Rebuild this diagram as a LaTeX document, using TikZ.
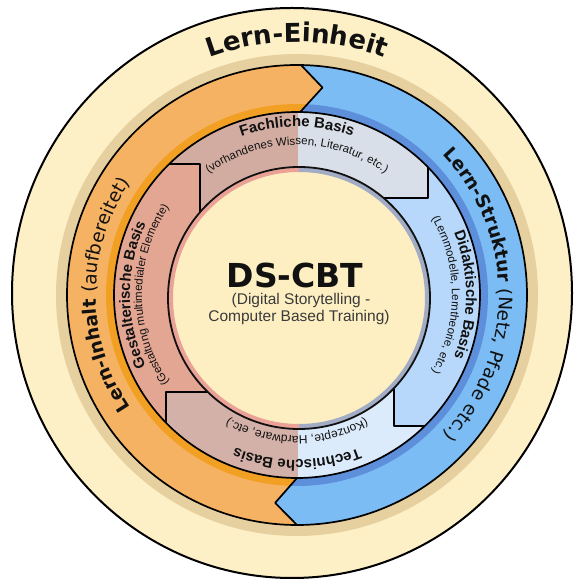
\documentclass[tikz,border=0pt]{standalone}
\usepackage{fontspec}
\usetikzlibrary{decorations.text}
\newfontfamily\dvs{DejaVu Sans}
\newfontfamily\lib{Liberation Sans}

\definecolor{unitbg}{HTML}{FEF0C6}
\definecolor{unittan}{HTML}{E6D09F}
\definecolor{lernorange}{HTML}{F5B262}
\definecolor{lernorangeband}{HTML}{F2A024}
\definecolor{lernblue}{HTML}{7BBCF4}
\definecolor{lernblueband}{HTML}{5E8FDB}
\definecolor{gestalt}{HTML}{E3A693}
\definecolor{fachL}{HTML}{D3ACA1}
\definecolor{fachR}{HTML}{D9DFE8}
\definecolor{didakt}{HTML}{B7D8FA}
\definecolor{technL}{HTML}{D4B1A8}
\definecolor{technR}{HTML}{DCEBFB}
\definecolor{core}{HTML}{FDEFC2}
\definecolor{coreshadeL}{HTML}{EBA296}
\definecolor{coreshadeR}{HTML}{A2ACC4}
\definecolor{ink}{HTML}{111111}
\definecolor{subgray}{HTML}{3A3A3A}

% text set along a clockwise arc around the current origin
% #1 baseline radius, #2 middle angle, #3 half span, #4 formatted text
\newcommand\ringlabel[4]{%
  \path[decorate, decoration={text along path, text align=center, text={#4}}]
    (#2+#3:#1) arc[start angle=#2+#3, end angle=#2-#3, radius=#1];}

\tikzset{
  outline/.style={draw=black, line width=1.7pt},
}

\begin{document}
\begin{tikzpicture}[x=1pt, y=1pt, line join=round]
\useasboundingbox (0,0) rectangle (579,581);
\fill[white] (0,0) rectangle (579,581);

% the learning unit
\coordinate (E) at (292,288);
\filldraw[fill=unitbg, draw=black, line width=2pt] (E) ellipse [x radius=280, y radius=285];

\begin{scope}[shift={(297,286)}]
  \coordinate (C) at (0,0);
  \fill[unittan] (C) circle[radius=241];

  % structure (blue) and content (orange) arrows
  \fill[lernblue] (C) circle[radius=230];
  \fill[lernblueband] (C) circle[radius=191];
  \begin{scope}
    \clip (89:183) -- (83:209) -- (89:230) -- (89:300) -- (-300,300) -- (-300,-300)
          -- (270:300) -- (270:230) -- (264:209) -- (270:183) -- (0,0) -- cycle;
    \fill[lernorange] (C) circle[radius=230];
    \fill[lernorangeband] (C) circle[radius=191];
  \end{scope}

  % the four bases
  \begin{scope}
    \clip (C) circle[radius=183];
    \begin{scope}
      \clip (0,0) -- (-97,50) -- (-97,131) -- (-300,131) -- (-300,300) -- (131,300) -- (131,97) -- (50,97) -- cycle;
      \fill[fachL] (-250,-250) rectangle (1,250);
      \fill[fachR] (1,-250) rectangle (250,250);
    \end{scope}
    \begin{scope}
      \clip (0,0) -- (50,97) -- (131,97) -- (131,300) -- (300,300) -- (300,-131) -- (97,-131) -- (97,-50) -- cycle;
      \fill[didakt] (-250,-250) rectangle (250,250);
    \end{scope}
    \begin{scope}
      \clip (0,0) -- (97,-50) -- (97,-131) -- (300,-131) -- (300,-300) -- (-131,-300) -- (-131,-97) -- (-50,-97) -- cycle;
      \fill[technL] (-250,-250) rectangle (1,250);
      \fill[technR] (1,-250) rectangle (250,250);
    \end{scope}
    \begin{scope}
      \clip (0,0) -- (-50,-97) -- (-131,-97) -- (-131,-300) -- (-300,-300) -- (-300,131) -- (-97,131) -- (-97,50) -- cycle;
      \fill[gestalt] (-250,-250) rectangle (250,250);
    \end{scope}
  \end{scope}

  % outlines
  \draw[outline] (C) circle[radius=230];
  \draw[outline] (C) circle[radius=183];
  \draw[outline] (89:230) -- (83:209) -- (89:183);
  \draw[outline] (270:230) -- (264:209) -- (270:183);
  \draw[outline] (-127.8,131) -- (-97,131) -- (-97,70);
  \draw[outline] (131,127.8) -- (131,97) -- (70,97);
  \draw[outline] (127.8,-131) -- (97,-131) -- (97,-70);
  \draw[outline] (-131,-127.8) -- (-131,-97) -- (-70,-97);

  % core circle
  \begin{scope}[shift={(2,-3)}]
    \fill[core] (0,0) circle[radius=131];
    \begin{scope}
      \clip (-140,-140) rectangle (0,140);
      \fill[coreshadeL, even odd rule] (0,0) circle[radius=131] (0,0) circle[radius=126];
    \end{scope}
    \begin{scope}
      \clip (0,-140) rectangle (140,140);
      \fill[coreshadeR, even odd rule] (0,0) circle[radius=131] (0,0) circle[radius=126];
    \end{scope}
    \draw[draw=ink, line width=1.8pt] (0,0) circle[radius=131];
  \end{scope}

  % ring labels
  \ringlabel{253}{90}{80}{|\dvs\bfseries\fontsize{26}{26}\selectfont\color{ink}|Lern-Einheit}
  \ringlabel{201}{180}{85}{|\dvs\bfseries\fontsize{18.5}{18.5}\selectfont\color{ink}|Lern-Inhalt |\dvs\mdseries\fontsize{18.5}{18.5}\selectfont\color{ink}|(aufbereitet)}
  \ringlabel{202}{0}{85}{|\dvs\bfseries\fontsize{18.5}{18.5}\selectfont\color{ink}|Lern-Struktur |\dvs\mdseries\fontsize{18.5}{18.5}\selectfont\color{ink}|(Netz, Pfade etc.)}

  \ringlabel{168}{90}{75}{|\lib\bfseries\fontsize{15}{15}\selectfont\color{ink}|Fachliche Basis}
  \ringlabel{150}{90}{80}{|\lib\mdseries\fontsize{11.5}{11.5}\selectfont\color{ink}|(vorhandenes Wissen, Literatur, etc.)}
  \ringlabel{169}{0}{75}{|\lib\bfseries\fontsize{15}{15}\selectfont\color{ink}|Didaktische Basis}
  \ringlabel{155}{0}{80}{|\lib\mdseries\fontsize{11.5}{11.5}\selectfont\color{ink}|(Lernmodelle, Lerntheorie, etc.)}
  \ringlabel{165}{270}{75}{|\lib\bfseries\fontsize{15}{15}\selectfont\color{ink}|Technische Basis}
  \ringlabel{141}{270}{80}{|\lib\mdseries\fontsize{12}{12}\selectfont\color{ink}|(Konzepte, Hardware, etc.)}
  \ringlabel{167}{180}{75}{|\lib\bfseries\fontsize{15}{15}\selectfont\color{ink}|Gestalterische Basis}
  \ringlabel{155}{180}{80}{|\lib\mdseries\fontsize{11.5}{11.5}\selectfont\color{ink}|(Gestaltung multimedialer Elemente)}
\end{scope}

% centre title
\node[font=\dvs\bfseries\fontsize{33}{33}\selectfont, text=ink, anchor=base, inner sep=0pt] (title) at (295,293) {DS-CBT};
\node[font=\lib\fontsize{15.5}{15.5}\selectfont, text=subgray, anchor=base, inner sep=0pt] (subA) at (301,276) {(Digital Storytelling -};
\node[font=\lib\fontsize{15.5}{15.5}\selectfont, text=subgray, anchor=base, inner sep=0pt] (subB) at (299,259) {Computer Based Training)};
\end{tikzpicture}
\end{document}
